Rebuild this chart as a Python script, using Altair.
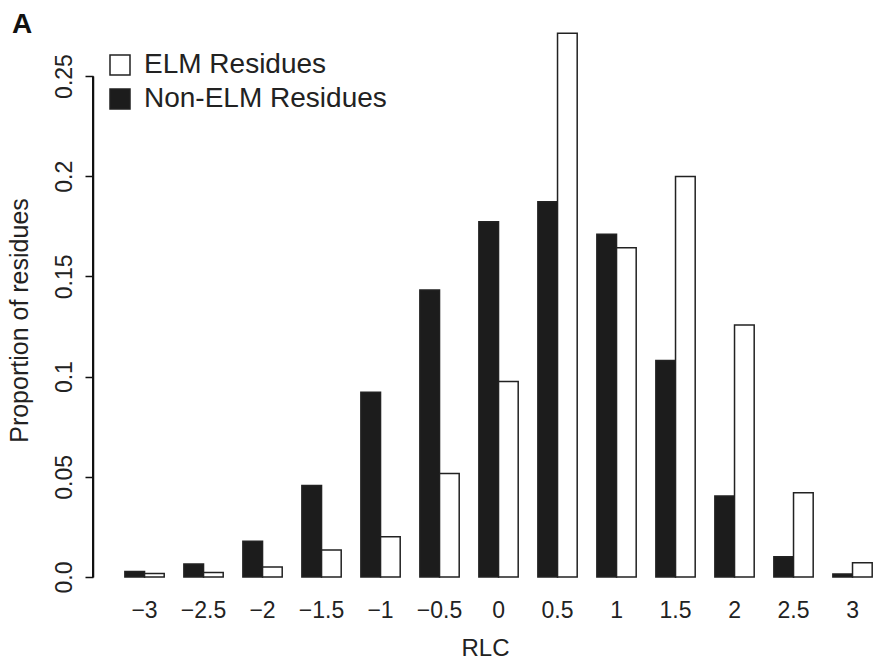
import altair as alt
import pandas as pd

rlc = ["−3", "−2.5", "−2", "−1.5", "−1", "−0.5", "0", "0.5", "1", "1.5", "2", "2.5", "3"]
non_elm = [0.0027, 0.0065, 0.0178, 0.0456, 0.0922, 0.1432, 0.1773, 0.1873, 0.1710, 0.1080, 0.0404, 0.0101, 0.0015]
elm = [0.0017, 0.0022, 0.0050, 0.0135, 0.0201, 0.0517, 0.0975, 0.2713, 0.1643, 0.1998, 0.1257, 0.0420, 0.0071]
series = ["ELM Residues", "Non-ELM Residues"]
y_ticks = [0.0, 0.05, 0.1, 0.15, 0.2, 0.25]
axis_span = [0.0, 0.25]

rows = []
for i, r in enumerate(rlc):
    rows.append({"RLC": r, "series": series[1], "value": non_elm[i]})
    rows.append({"RLC": r, "series": series[0], "value": elm[i]})
df = pd.DataFrame(rows)

FONT = "Liberation Sans"

yscale = alt.Scale(domain=[0, 0.25], nice=False, zero=False)

bars = alt.Chart(df).mark_bar(stroke="#222222", strokeWidth=1.5, clip=False).encode(
    x=alt.X("RLC:N", sort=rlc,
            scale=alt.Scale(paddingInner=1 / 3, paddingOuter=0.277, align=0.914),
            axis=alt.Axis(title="RLC", domain=False, ticks=False, labelAngle=0,
                          labelFontSize=23, labelFont=FONT, labelColor="#222222",
                          labelPadding=22, titleFontSize=24, titleFont=FONT,
                          titleFontWeight="normal", titleColor="#222222", titlePadding=14)),
    xOffset=alt.XOffset("series:N", sort=[series[1], series[0]],
                        scale=alt.Scale(paddingInner=0, paddingOuter=0)),
    y=alt.Y("value:Q", scale=yscale,
            axis=alt.Axis(title="Proportion of residues", values=y_ticks, offset=2,
                          domain=True, domainColor="#111111", domainWidth=1.5,
                          grid=False, tickSize=8, tickWidth=1.5, tickColor="#111111",
                          labelAngle=270, labelFontSize=23, labelFont=FONT,
                          labelColor="#222222", labelPadding=9,
                          labelExpr="datum.value == 0 ? '0.0' : format(datum.value, '~g')",
                          titleFontSize=25, titleFont=FONT, titleFontWeight="normal",
                          titleColor="#222222", titleAngle=270, titleAlign="center",
                          titleBaseline="middle", titleX=-74, titleY=244)),
    fill=alt.Fill("series:N",
                  scale=alt.Scale(domain=series, range=["#ffffff", "#1c1c1c"]),
                  legend=alt.Legend(title=None, orient="none", legendX=11, legendY=-25,
                                    symbolType="square", symbolSize=400,
                                    symbolStrokeColor="#222222", symbolStrokeWidth=1.5,
                                    labelFontSize=28, labelFont=FONT, labelColor="#222222",
                                    labelLimit=0, labelOffset=10, rowPadding=6, padding=0)),
)

# explicit y-axis line (0 to 0.25) as a thin filled bar, just left of the plot edge
axis_bar = alt.Chart(pd.DataFrame({"lo": [axis_span[0]], "hi": [axis_span[1]]})).mark_bar(
    fill="#111111", clip=False
).encode(x=alt.value(-3), x2=alt.value(-1.5), y=alt.Y("lo:Q", scale=yscale), y2=alt.Y2("hi"))

panel = alt.Chart(pd.DataFrame({"t": ["A"]})).mark_text(
    font=FONT, fontSize=28, fontWeight="bold", align="left", baseline="middle", color="#111111"
).encode(x=alt.value(-83), y=alt.value(-51), text="t:N")

chart = alt.layer(bars, axis_bar, panel).properties(
    width=780, height=501,
    background="white",
    autosize=alt.AutoSizeParams(type="none"),
    padding={"left": 95, "top": 76, "right": 0, "bottom": 86},
).configure_view(stroke=None)

chart.save("out.html", embed_options={"renderer": "svg", "actions": False})
